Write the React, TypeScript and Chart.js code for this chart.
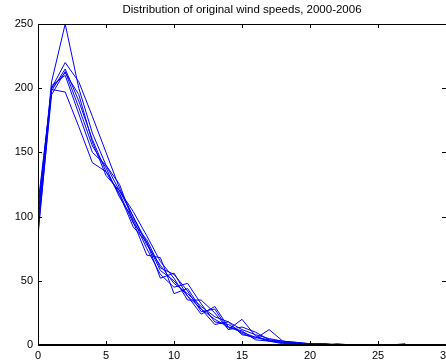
import React, { useEffect, useRef } from "react";
import { Chart, registerables } from "chart.js";

Chart.register(...registerables);

const TITLE = "Distribution of original wind speeds, 2000-2006";
const BINS = [0,1,2,3,4,5,6,7,8,9,10,11,12,13,14,15,16,17,18,19,20,21,22,23,24,25,26,27];
const X_TICKS = [0, 5, 10, 15, 20, 25, 30];
const Y_TICKS = [0, 50, 100, 150, 200, 250];

const Y2000 = [95, 205, 250, 200, 165, 140, 120, 100, 80, 58, 50, 38, 28, 20, 14, 10, 6, 4, 2, 1, 1, 0, 0, 0, 0, 0, 0, 0];
const Y2001 = [100, 200, 220, 205, 178, 150, 122, 100, 78, 62, 48, 40, 30, 22, 18, 12, 8, 5, 3, 2, 1, 1, 0, 0, 0, 0, 0, 0];
const Y2002 = [110, 198, 215, 190, 160, 135, 118, 95, 82, 60, 55, 42, 26, 28, 12, 20, 7, 3, 2, 1, 1, 0, 0, 0, 0, 0, 0, 1];
const Y2003 = [88, 195, 213, 185, 155, 138, 115, 98, 75, 55, 45, 48, 32, 18, 16, 9, 5, 12, 3, 2, 1, 1, 0, 0, 0, 0, 0, 0];
const Y2004 = [92, 200, 212, 195, 158, 132, 120, 104, 85, 65, 52, 35, 35, 25, 12, 14, 10, 4, 3, 1, 1, 0, 1, 0, 0, 0, 0, 0];
const Y2005 = [105, 202, 210, 180, 150, 140, 125, 96, 70, 68, 40, 44, 28, 16, 18, 8, 6, 3, 1, 2, 0, 1, 0, 0, 0, 0, 0, 0];
const Y2006 = [85, 199, 197, 170, 142, 135, 117, 92, 80, 52, 56, 38, 24, 30, 14, 11, 4, 3, 2, 1, 0, 0, 0, 0, 0, 0, 0, 0];

const SERIES = [Y2000, Y2001, Y2002, Y2003, Y2004, Y2005, Y2006];

const FONT = "'Liberation Sans', Arial, sans-serif";

const matlabAxes = {
  id: "matlabAxes",
  afterDraw(chart: any) {
    const { ctx, chartArea } = chart;
    const xs = chart.scales.x;
    const ys = chart.scales.y;
    const { left, right, top, bottom } = chartArea;
    ctx.save();
    ctx.strokeStyle = "#000";
    ctx.lineWidth = 1;
    ctx.beginPath();
    ctx.moveTo(left + 0.5, bottom);
    ctx.lineTo(left + 0.5, top + 0.5);
    ctx.lineTo(right, top + 0.5);
    ctx.stroke();
    ctx.lineWidth = 2;
    ctx.beginPath();
    ctx.moveTo(left, bottom);
    ctx.lineTo(right, bottom);
    ctx.stroke();
    ctx.lineWidth = 1;
    ctx.beginPath();
    X_TICKS.forEach((v) => {
      const px = Math.round(xs.getPixelForValue(v)) + 0.5;
      ctx.moveTo(px, top);
      ctx.lineTo(px, top + 4);
      ctx.moveTo(px, bottom);
      ctx.lineTo(px, bottom - 4);
    });
    Y_TICKS.forEach((v) => {
      const py = Math.round(ys.getPixelForValue(v)) + 0.5;
      ctx.moveTo(left, py);
      ctx.lineTo(left + 4, py);
      ctx.moveTo(right, py);
      ctx.lineTo(right - 4, py);
    });
    ctx.stroke();
    ctx.restore();
  },
};

export default function App() {
  const ref = useRef<HTMLCanvasElement | null>(null);
  useEffect(() => {
    document.body.style.margin = "0";
    const canvas = ref.current!;
    const chart = new Chart(canvas, {
      type: "line",
      data: {
        datasets: SERIES.map((s, i) => ({
          label: String(2000 + i),
          data: BINS.map((b, j) => ({ x: b, y: s[j] })),
          borderColor: "#0000ff",
          backgroundColor: "#0000ff",
          borderWidth: 1,
          pointRadius: 0,
          tension: 0,
          fill: false,
        })),
      },
      options: {
        animation: false,
        responsive: false,
        devicePixelRatio: 1,
        layout: { padding: 0, autoPadding: false },
        plugins: {
          legend: { display: false },
          tooltip: { enabled: false },
          title: {
            display: true,
            text: TITLE,
            fullSize: false,
            color: "#000",
            font: { family: FONT, size: 11.5, weight: "normal", lineHeight: 1.2 },
            padding: { top: 3, bottom: 7.2 },
          },
        },
        scales: {
          x: {
            type: "linear",
            min: 0,
            max: 30,
            afterBuildTicks: (s: any) => { s.ticks = X_TICKS.map((v) => ({ value: v })); },
            afterFit: (s: any) => { s.height = 18; s.paddingLeft = 0; s.paddingRight = 0; },
            grid: { display: false, drawTicks: false },
            border: { display: false },
            ticks: { color: "#000", font: { family: FONT, size: 11 }, padding: 4, maxRotation: 0, autoSkip: false },
          },
          y: {
            type: "linear",
            min: 0,
            max: 250,
            afterBuildTicks: (s: any) => { s.ticks = Y_TICKS.map((v) => ({ value: v })); },
            afterFit: (s: any) => { s.width = 38; s.paddingTop = 0; s.paddingBottom = 0; },
            grid: { display: false, drawTicks: false },
            border: { display: false },
            ticks: { color: "#000", font: { family: FONT, size: 11 }, padding: 5 },
          },
        },
      },
      plugins: [matlabAxes],
    } as any);
    return () => chart.destroy();
  }, []);
  return <canvas ref={ref} width={446} height={363} style={{ display: "block" }} />;
}
